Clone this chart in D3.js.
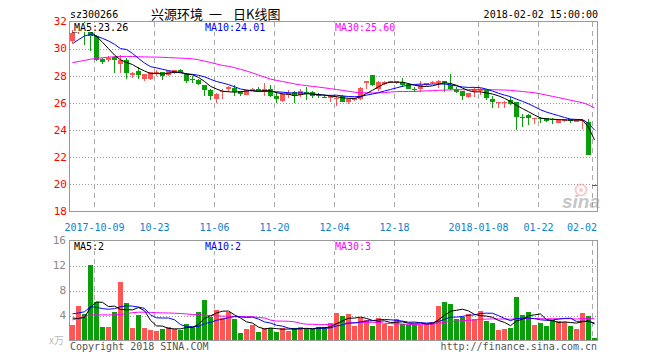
<!DOCTYPE html>
<html><head><meta charset="utf-8">
<script src="https://cdn.jsdelivr.net/npm/d3@7"></script>
<style>body{margin:0;background:#fff}svg{display:block}</style>
</head><body><svg id="c" width="660" height="360"></svg>
<script>
const dates = ["2017-09-26","2017-09-27","2017-09-28","2017-09-29",
"2017-10-09","2017-10-10","2017-10-11","2017-10-12","2017-10-13","2017-10-16","2017-10-17","2017-10-18","2017-10-19","2017-10-20","2017-10-23","2017-10-24","2017-10-25","2017-10-26","2017-10-27","2017-10-30","2017-10-31",
"2017-11-01","2017-11-02","2017-11-03","2017-11-06","2017-11-07","2017-11-08","2017-11-09","2017-11-10","2017-11-13","2017-11-14","2017-11-15","2017-11-16","2017-11-17","2017-11-20","2017-11-21","2017-11-22","2017-11-23","2017-11-24","2017-11-27","2017-11-28","2017-11-29","2017-11-30",
"2017-12-01","2017-12-04","2017-12-05","2017-12-06","2017-12-07","2017-12-08","2017-12-11","2017-12-12","2017-12-13","2017-12-14","2017-12-15","2017-12-18","2017-12-19","2017-12-20","2017-12-21","2017-12-22","2017-12-25","2017-12-26","2017-12-27","2017-12-28","2017-12-29",
"2018-01-02","2018-01-03","2018-01-04","2018-01-05","2018-01-08","2018-01-09","2018-01-10","2018-01-11","2018-01-12","2018-01-15","2018-01-16","2018-01-17","2018-01-18","2018-01-19","2018-01-22","2018-01-23","2018-01-24","2018-01-25","2018-01-26","2018-01-29","2018-01-30","2018-01-31",
"2018-02-01","2018-02-02"];

const open = [30.55,31.2,31.9,31.2,30.93,29.26,29.15,29.4,28.9,29.2,28.03,28.35,27.8,27.74,28.2,28.28,28.03,28.2,28.45,28.16,27.75,27.71,27.3,26.93,26.31,26.85,27.05,27.1,26.85,26.6,26.9,27.0,26.8,27.05,26.5,26.15,26.6,26.8,26.6,26.8,26.8,26.55,26.45,26.4,26.3,26.5,26.1,26.2,26.28,27.45,28.03,27.05,27.4,27.5,27.45,27.55,27.4,27.05,27.05,27.3,27.45,27.5,27.6,27.3,27.05,26.85,26.45,26.85,26.9,26.93,26.3,26.0,26.05,26.22,26.07,24.95,25.1,24.8,24.88,24.9,24.82,24.55,24.65,24.78,24.6,24.65,24.6,19.98];
const high = [31.35,31.8,32.0,31.3,31.0,29.3,29.45,29.45,29.55,29.3,28.3,28.65,28.15,28.3,28.4,28.3,28.45,28.45,28.5,28.2,28.0,27.75,27.35,27.0,26.73,27.0,27.25,27.3,26.9,26.95,27.1,27.2,27.45,27.3,26.8,26.7,26.95,26.9,27.0,27.2,26.85,26.7,26.55,26.6,26.5,26.55,26.35,26.4,27.2,27.65,28.05,27.65,27.6,27.65,27.62,27.85,27.45,27.2,27.6,27.5,27.6,27.7,27.65,28.1,27.2,26.9,26.75,27.2,27.1,27.0,26.5,26.1,26.15,26.45,26.1,25.2,25.15,24.9,24.95,24.92,24.88,24.82,24.85,24.82,24.78,24.78,24.8,19.98];
const low = [30.45,31.1,30.3,29.8,29.1,28.9,29.0,28.2,28.2,27.8,27.82,27.75,27.6,27.7,28.0,27.72,27.95,28.15,28.25,27.5,27.45,27.3,26.5,26.2,26.0,26.3,26.8,26.5,26.5,26.55,26.85,26.85,26.5,26.45,26.0,26.1,26.4,26.0,26.45,26.2,26.4,26.4,26.35,26.1,25.8,26.05,25.95,26.15,26.2,27.05,27.25,26.85,27.35,27.45,27.4,27.2,27.0,26.8,26.8,27.25,27.4,27.1,26.8,26.95,26.7,26.25,26.4,26.45,26.6,26.2,25.6,25.6,25.65,25.85,23.98,24.2,24.35,24.45,24.5,24.62,24.45,24.52,24.6,24.5,24.58,24.1,22.15,19.98];
const close = [31.15,31.7,31.5,30.95,29.2,29.0,29.33,29.16,29.2,28.22,28.22,28.03,28.1,28.28,28.28,27.97,28.35,28.4,28.3,27.62,27.7,27.37,26.93,26.5,26.63,26.9,27.15,26.8,26.63,26.93,27.05,26.88,27.05,26.5,26.3,26.63,26.73,26.5,26.9,26.63,26.5,26.5,26.4,26.5,26.4,26.1,26.3,26.35,27.1,27.62,27.3,27.55,27.57,27.62,27.58,27.3,27.05,26.95,27.3,27.45,27.55,27.65,27.45,27.05,26.8,26.5,26.73,27.0,27.05,26.4,26.1,26.05,26.1,25.9,24.96,24.9,24.9,24.88,24.8,24.65,24.78,24.75,24.78,24.68,24.72,24.72,22.2,19.98];
const volume = [2.56,5.6,4.27,12.16,6.24,2.24,2.24,4.64,9.44,6.08,2.08,4.16,2.08,1.76,1.6,1.92,2.24,1.8,1.76,2.67,2.13,4.53,6.56,3.84,4.96,3.57,4.64,3.52,1.28,1.92,2.56,1.44,2.03,2.03,1.44,2.08,1.6,2.03,2.2,1.81,1.81,2.2,2.24,2.88,4.35,4.0,4.32,2.4,3.63,3.31,2.4,3.68,2.72,2.3,3.52,2.72,2.56,2.72,2.5,2.72,3.04,5.6,6.24,5.81,3.52,3.84,4.27,3.47,4.75,3.2,2.88,1.76,1.92,2.08,7.04,4.16,4.64,2.56,2.88,2.4,3.36,3.2,3.04,2.4,1.92,4.48,4.0,0.48];

const ma5Head = [31.2,31.25,31.3,31.25];
const ma10Head = [30.37,30.66,30.93,31.06,30.91,30.76,30.57,30.32,30.0];
const ma30Head = [28.97,29.05,29.13,29.22,29.28,29.33,29.37,29.4,29.42,29.43,29.42,29.4,29.39,29.38,29.38,29.36,29.34,29.32,29.3,29.28,29.25,29.18,29.08,28.98,28.87,28.76,28.7,28.6,28.48];
const vma5Head = [3.6,3.5,3.7,5.3];
const vma10Head = [4.27,4.4,4.6,5.4,5.3,5.1,5.0,5.1,5.4];
const vma30Head = [3.3,3.55,3.85,4.1,4.1,4.1,4.1,4.12,4.15,4.3,4.45,4.53,4.53,4.5,4.45,4.42,4.4,4.37,4.32,4.25,4.16,4.12,4.06,4.0,3.95,3.9,3.88,3.86,3.84];

const priceTicks = [32,30,28,26,24,22,20,18];
const volTicks = [16,12,8,4];
const tickDates = ["2017-10-09","2017-10-23","2017-11-06","2017-11-20","2017-12-04","2017-12-18","2018-01-08","2018-01-22","2018-02-02"];
const tickLabels = ["2017-10-09","10-23","11-06","11-20","12-04","12-18","2018-01-08","01-22","02-02"];
const maLabels = ["MA5:23.26","MA10:24.01","MA30:25.60"];
const vmaLabels = ["MA5:2","MA10:2","MA30:3"];
const titleParts = ["兴源环境","一","日K线图"];

const UP = "#ff5555", DOWN = "#0a9f0a";
const MONO = "'DejaVu Sans Mono', monospace";
const svg = d3.select("#c");
const L = 70, R = 597.5;
const x = d3.scaleLinear().domain([0, dates.length]).range([70, 598]);
const yP = d3.scaleLinear().domain([18, 32]).range([211.5, 21.5]);
const yV = d3.scaleLinear().domain([0, 16]).range([340.5, 240.5]);

function ma(arr, n, head) {
  return arr.map((v, i) => i < head.length ? head[i] : d3.mean(arr.slice(i - n + 1, i + 1)));
}
const isUp = i => close[i] > open[i] ? true : close[i] < open[i] ? false : (i > 0 ? close[i] >= close[i-1] : true);

const defs = svg.append("defs");
defs.append("clipPath").attr("id","cp").append("rect").attr("x",L).attr("y",21.5).attr("width",R-L).attr("height",190);
defs.append("clipPath").attr("id","cv").append("rect").attr("x",L).attr("y",240.5).attr("width",R-L).attr("height",100);

// header
svg.append("text").attr("x",70).attr("y",18).attr("font-family",MONO).attr("font-size",10).attr("fill","#000").text("sz300266");
const titleX = [151, 209, 233];
titleParts.forEach((t,k)=>{
  svg.append("text").attr("x",titleX[k]).attr("y",18.5).attr("font-family","'Noto Sans CJK SC'").attr("font-size",13).attr("fill","#000").text(t);
});
svg.append("text").attr("x",598).attr("y",18).attr("text-anchor","end").attr("font-family",MONO).attr("font-size",10).attr("fill","#000").text("2018-02-02 15:00:00");

// grids
function grid(yScale, ticks, y0, y1) {
  const g = svg.append("g").attr("shape-rendering","crispEdges");
  g.selectAll("line.h").data(ticks).enter().append("line")
    .attr("x1",L).attr("x2",R).attr("y1",d=>Math.round(yScale(d))+0.5).attr("y2",d=>Math.round(yScale(d))+0.5)
    .attr("stroke","#999").attr("stroke-dasharray","1,2");
  g.selectAll("line.v").data(tickDates).enter().append("line")
    .attr("x1",d=>x(dates.indexOf(d))+0.5).attr("x2",d=>x(dates.indexOf(d))+0.5)
    .attr("y1",y0).attr("y2",y1).attr("stroke","#aaa").attr("stroke-dasharray","5,4");
}
grid(yP, [30,28,26,24,22,20], 22, 211);
grid(yV, [12,8,4], 241, 340);

// candles
const cg = svg.append("g").attr("clip-path","url(#cp)").attr("shape-rendering","crispEdges");
dates.forEach((d, i) => {
  const col = isUp(i) ? UP : DOWN;
  cg.append("line").attr("x1",x(i)+2.5).attr("x2",x(i)+2.5).attr("y1",yP(high[i])).attr("y2",yP(low[i])).attr("stroke",col);
  const top = yP(Math.max(open[i], close[i])), bot = yP(Math.min(open[i], close[i]));
  cg.append("rect").attr("x",x(i)).attr("width",5).attr("y",top).attr("height",Math.max(1, bot-top)).attr("fill",col);
});
// volume bars
const vg = svg.append("g").attr("clip-path","url(#cv)").attr("shape-rendering","crispEdges");
vg.selectAll("rect").data(volume).enter().append("rect")
  .attr("x",(d,i)=>x(i)).attr("width",5).attr("y",d=>yV(d)).attr("height",d=>yV(0)-yV(d))
  .attr("fill",(d,i)=>isUp(i)?UP:DOWN);

// MA lines
const lineP = d3.line().x((d,i)=>x(i)+2.5).y(d=>yP(d));
const lineV = d3.line().x((d,i)=>x(i)+2.5).y(d=>yV(d));
const lg = svg.append("g").attr("clip-path","url(#cp)").attr("fill","none");
[[ma(close,30,ma30Head),"#ff00ff"],[ma(close,10,ma10Head),"#0000ff"],[ma(close,5,ma5Head),"#000"]].forEach(([s,c])=>{
  lg.append("path").attr("d",lineP(s)).attr("stroke",c).attr("stroke-width",1);
});
const lv = svg.append("g").attr("clip-path","url(#cv)").attr("fill","none");
[[ma(volume,30,vma30Head),"#ff00ff"],[ma(volume,10,vma10Head),"#0000ff"],[ma(volume,5,vma5Head),"#000"]].forEach(([s,c])=>{
  lv.append("path").attr("d",lineV(s)).attr("stroke",c).attr("stroke-width",1);
});

// watermark
const wm = svg.append("g").attr("opacity",0.55);
wm.append("circle").attr("cx",581).attr("cy",190).attr("r",5.5).attr("fill","none").attr("stroke","#f7a0a0").attr("stroke-width",2);
wm.append("circle").attr("cx",581).attr("cy",190).attr("r",2).attr("fill","#f7a0a0");
wm.append("text").attr("x",562).attr("y",208).attr("font-family","'Liberation Sans'").attr("font-style","italic").attr("font-weight","bold").attr("font-size",19).attr("fill","#999").text("sina");

// borders
svg.append("rect").attr("x",69.5).attr("y",21.5).attr("width",R-69.5).attr("height",190).attr("fill","none").attr("stroke","#999");
svg.append("rect").attr("x",69.5).attr("y",240.5).attr("width",R-69.5).attr("height",100).attr("fill","none").attr("stroke","#999");

// MA labels
const maX = [74, 205, 335], maCol = ["#000","#0000ff","#ff00ff"];
function labels(txts, yb) {
  txts.forEach((t, k) => {
    const tx = svg.append("text").attr("x",maX[k]).attr("y",yb).attr("font-family",MONO).attr("font-size",10).attr("fill",maCol[k]).text(t);
    const bb = tx.node().getBBox();
    svg.insert("rect", () => tx.node()).attr("x",bb.x-1).attr("y",bb.y+1).attr("width",bb.width+2).attr("height",bb.height-2).attr("fill","#fff");
  });
}
labels(maLabels, 31);
labels(vmaLabels, 250);

// axes labels
svg.append("g").selectAll("text").data(priceTicks).enter().append("text")
  .attr("x",67).attr("y",d=>yP(d)).attr("dy","0.35em").attr("text-anchor","end")
  .attr("font-family",MONO).attr("font-size",11).attr("fill","#f00").text(d=>d);
svg.append("g").selectAll("text").data(volTicks).enter().append("text")
  .attr("x",66).attr("y",d=>yV(d)).attr("dy","0.35em").attr("text-anchor","end")
  .attr("font-family",MONO).attr("font-size",11).attr("fill","#888").text(d=>d);
svg.append("text").attr("x",64).attr("y",yV(0)).attr("dy","0.35em").attr("text-anchor","end")
  .attr("font-family","'Noto Sans CJK SC'").attr("font-size",10).attr("fill","#bbb").text("x万");

svg.append("g").selectAll("text").data(tickDates).enter().append("text")
  .attr("x",(d,k)=> k === tickDates.length-1 ? 597 : x(dates.indexOf(d))+0.5)
  .attr("y",231).attr("text-anchor",(d,k)=> k === tickDates.length-1 ? "end" : "middle")
  .attr("font-family",MONO).attr("font-size",10).attr("fill","#1080d0").text((d,k)=>tickLabels[k]);

svg.append("text").attr("x",70).attr("y",350).attr("font-family",MONO).attr("font-size",10).attr("fill","#555").text("Copyright 2018 SINA.COM");
svg.append("text").attr("x",597).attr("y",350).attr("text-anchor","end").attr("font-family",MONO).attr("font-size",10).attr("fill","#555").text("http://finance.sina.com.cn");
</script></body></html>
